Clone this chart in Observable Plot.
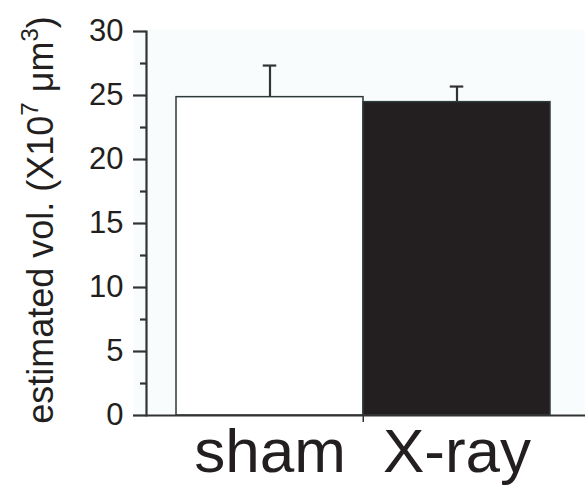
<!DOCTYPE html>
<html>
<head>
<meta charset="utf-8">
<script src="https://cdn.jsdelivr.net/npm/d3@7"></script>
<script src="https://cdn.jsdelivr.net/npm/@observablehq/plot@0.6"></script>
<style>
  html, body { margin: 0; padding: 0; background: #ffffff; }
  #chart svg { display: block; }
</style>
</head>
<body>
<div id="chart"></div>
<script>
const groups = ["sham", "X-ray"];
const means = [24.87, 24.48];
const errors = [2.47, 1.22];
const fills = ["#ffffff", "#231f20"];
const majorTicks = [0, 5, 10, 15, 20, 25, 30];
const minorTicks = [2.5, 7.5, 12.5, 17.5, 22.5, 27.5];

const data = groups.map((g, i) => ({group: g, mean: means[i], err: errors[i], top: means[i] + errors[i], fill: fills[i]}));

const W = 585, H = 492;
const mL = 146, mT = 31, mB = 77;
const ink = "#333333";

const chart = Plot.plot({
  width: W,
  height: H,
  marginLeft: mL,
  marginRight: 0,
  marginTop: mT,
  marginBottom: mB,
  style: {fontFamily: "'Liberation Sans', Arial, sans-serif", color: "#231f20", background: "transparent"},
  x: {domain: groups, range: [175, 550], padding: 0, axis: null},
  y: {domain: [0, 30], axis: null},
  marks: [
    Plot.frame({fill: "#f9fcfc", stroke: null, insetLeft: -13, insetTop: -2}),
    Plot.barY(data, {x: "group", y: "mean", fill: "fill", stroke: "#2e3a3a", strokeWidth: 1.5}),
    Plot.ruleX(data, {x: "group", y1: "mean", y2: "top", stroke: ink, strokeWidth: 2.2}),
    Plot.tickY(data, {x: "group", y: "top", stroke: ink, strokeWidth: 2.2, insetLeft: 86.75, insetRight: 86.75}),
    Plot.ruleY([0], {stroke: ink, strokeWidth: 2.2}),
    Plot.ruleX(["X-ray"], {x: d => d, y1: 0, y2: -0.55, dx: -93.75, stroke: ink, strokeWidth: 1.5}),
    Plot.frame({anchor: "left", stroke: ink, strokeWidth: 2.2}),
    Plot.axisY(majorTicks, {tickSize: 13, tickPadding: 10, fontSize: 31, stroke: ink, strokeWidth: 2.2, label: null, color: "#231f20"}),
    Plot.axisY(minorTicks, {tickSize: 6, tickFormat: () => "", stroke: ink, strokeWidth: 2.2, label: null}),
    Plot.axisX({tickSize: 0, tickPadding: 12, fontSize: 62, label: null, color: "#231f20"})
  ]
});

document.getElementById("chart").appendChild(chart);

// y-axis title with superscripts
const svg = d3.select(chart);
const t = svg.append("text")
  .attr("transform", "translate(53,220) rotate(-90)")
  .attr("text-anchor", "middle")
  .attr("font-size", 36)
  .attr("fill", "#231f20")
  .attr("font-family", "'Liberation Sans', Arial, sans-serif");
t.append("tspan").text("estimated vol. (X10");
t.append("tspan").attr("font-size", 24).attr("dy", -15).text("7");
t.append("tspan").attr("dy", 15).text(" μm");
t.append("tspan").attr("font-size", 24).attr("dy", -15).text("3");
t.append("tspan").attr("dy", 15).text(")");
</script>
</body>
</html>
